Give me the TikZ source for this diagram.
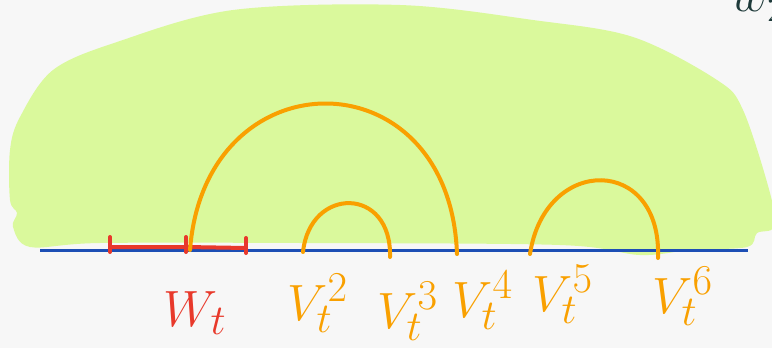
\documentclass[tikz,border=0pt]{standalone}
\usepackage{tikz}
\usetikzlibrary{positioning}
\definecolor{blobgreen}{HTML}{DAF99C}
\definecolor{arcorange}{HTML}{F9A000}
\definecolor{wred}{HTML}{E8392B}
\definecolor{baseblue}{HTML}{1D4FB5}
\definecolor{inkdark}{HTML}{1E3A3A}

\begin{document}
\begin{tikzpicture}[x=1pt, y=-1pt,
    arcline/.style={draw=arcorange, line width=4pt, line cap=round},
    bracket/.style={draw=wred, line width=4pt, line cap=round},
    lbl/.style={inner sep=0pt, anchor=base west, font=\Huge, scale=2.05}]
        % Paper
        \fill[white!97!black] (0,0) rectangle (772,348);
        \useasboundingbox (0,0) rectangle (772,348);
        \clip (0,0) rectangle (772,348);

        % Green region
        \fill[blobgreen] plot[smooth cycle, tension=0.55] coordinates {
          (10,150) (20,117) (53,70) (117,42) (233,10) (400,5) (533,20)
          (633,37) (717,80) (743,110) (770,193) (774,227) (757,233)
          (747,247) (690,250) (640,255) (560,245) (300,243) (100,243)
          (30,247) (13,227) (17,213) (10,200)};

        % Base line
        \coordinate (left) at (40,250);
        \coordinate (right) at (748,250);
        \draw[baseblue, line width=3pt] (left) -- (right);

        % W_t interval
        \coordinate (w1) at (110,247);
        \coordinate (w2) at (186,247);
        \coordinate (w3) at (246,248);
        \draw[bracket] (w1) -- (w2) -- (w3);
        \foreach \p in {w1,w2,w3}
          \draw[bracket] ([yshift=-5pt]\p) -- ([yshift=10pt]\p);

        % Points V_t^i on the line
        \coordinate (a1) at (190,250);
        \coordinate (v2) at (303,252);
        \coordinate (v3) at (390,257);
        \coordinate (v4) at (457,254);
        \coordinate (v5) at (530,254);
        \coordinate (v6) at (658,258);

        % Arcs
        \draw[arcline] (a1) .. controls (205,54) and (450,54) .. (v4);
        \draw[arcline] (v2) .. controls (310,186) and (392,186) .. (v3);
        \draw[arcline] (v5) .. controls (545,155) and (662,155) .. (v6);

        % Labels
        \node[lbl, text=wred] (lw) at (163,326) {$W_t$};
        \node[lbl, text=arcorange] (l2) at (287,320) {$V_t^2$};
        \node[lbl, text=arcorange] (l3) at (377,328) {$V_t^3$};
        \node[lbl, text=arcorange] (l4) at (452,317) {$V_t^4$};
        \node[lbl, text=arcorange] (l5) at (532,311) {$V_t^5$};
        \node[lbl, text=arcorange] (l6) at (652,313) {$V_t^6$};

        % Cut-off note in the corner
        \node[lbl, text=inkdark] (lw2) at (731,12) {$w_2$};
      \end{tikzpicture}
\end{document}
